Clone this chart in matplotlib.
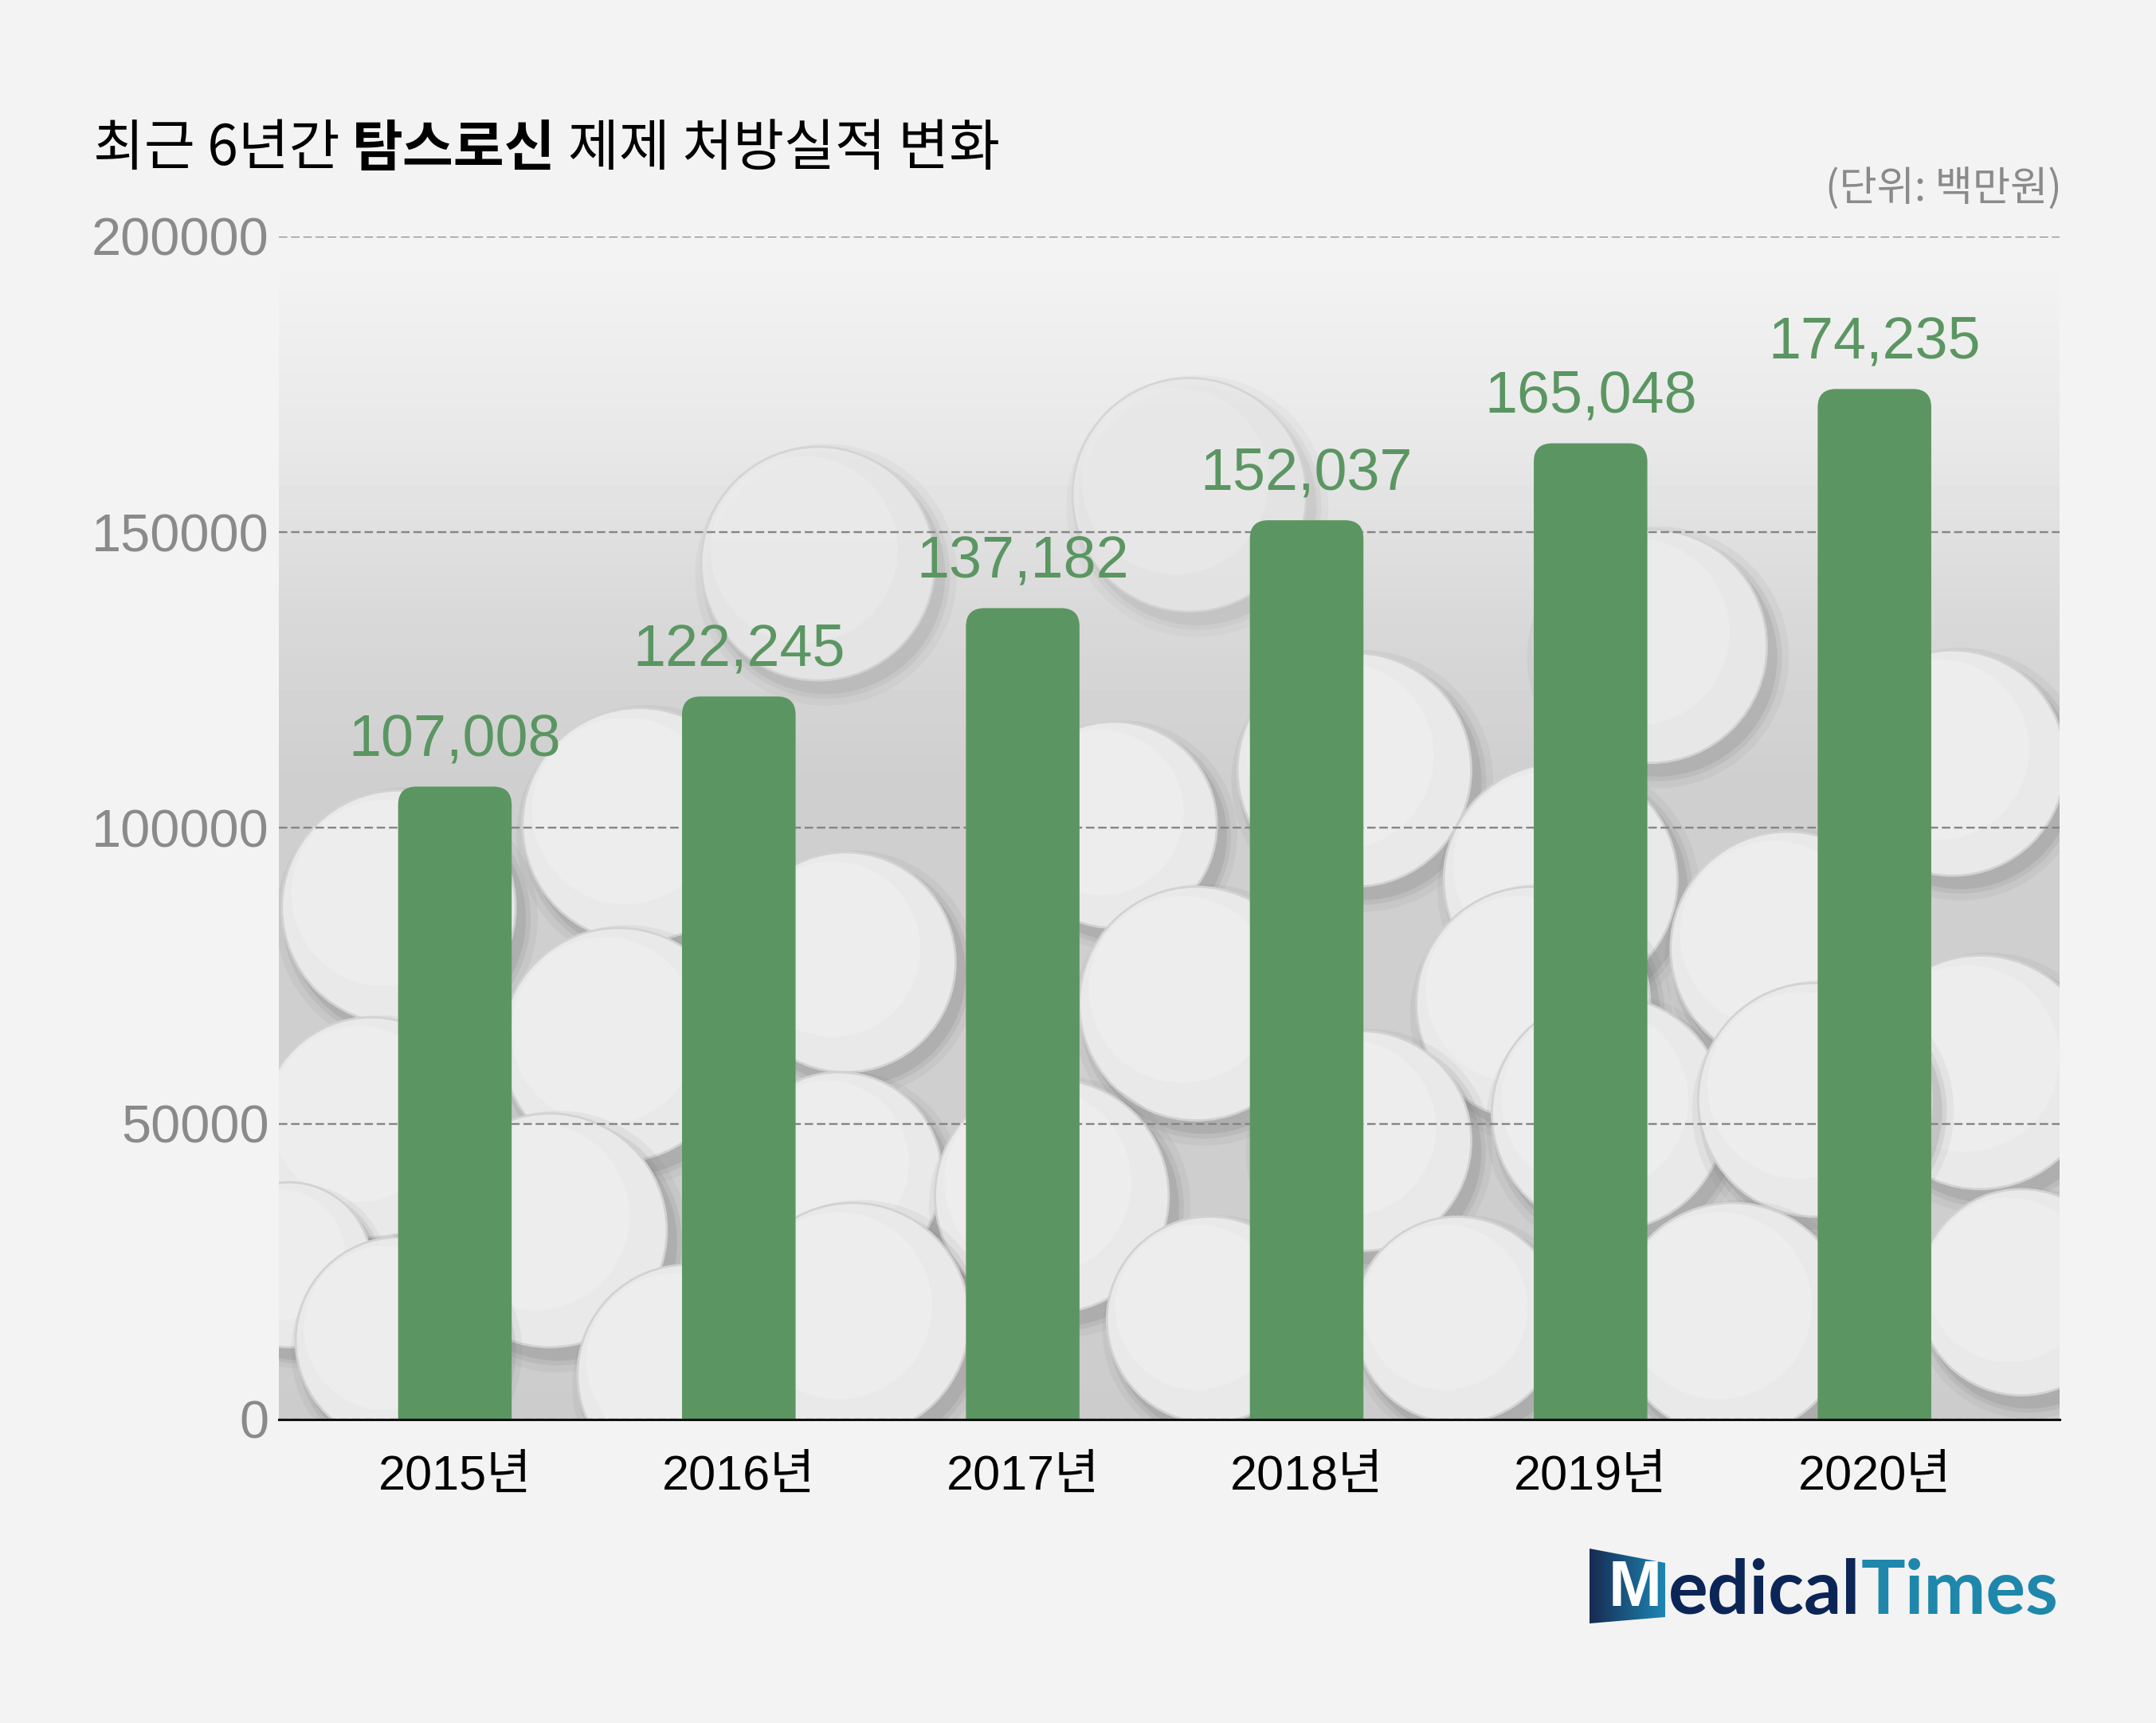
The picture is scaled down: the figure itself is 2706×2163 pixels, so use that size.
import numpy as np
import matplotlib.pyplot as plt
from matplotlib.patches import FancyBboxPatch, Polygon, Circle
from matplotlib.colors import LinearSegmentedColormap

# data
years = ['2015년', '2016년', '2017년', '2018년', '2019년', '2020년']
values = [107008, 122245, 137182, 152037, 165048, 174235]
yticks = [0, 50000, 100000, 150000, 200000]

title_a = '최근 6년간'
title_b = '탐스로신'
title_c = '제제 처방실적 변화'
unit_text = '(단위: 백만원)'

BG = '#f3f3f3'
GREEN = '#5b9662'
GRAY = '#8a8a8a'
KR = ['Noto Sans CJK KR', 'DejaVu Sans']
NUM = ['Liberation Sans', 'Noto Sans CJK KR', 'DejaVu Sans']

W, H = 2706, 2163
S = W / 1568.0
L, R, T, B = 350, 2585, 297, 1782
PHOTO_TOP = 336

fig = plt.figure(figsize=(W / 100, H / 100), dpi=100, facecolor=BG)
rect = [L / W, 1 - B / H, (R - L) / W, (B - T) / H]

# backdrop axes in pixel units: a grey photo of pills, only as decoration
pax = fig.add_axes(rect, facecolor='none', zorder=0)
pax.set_xlim(L, R)
pax.set_ylim(B, T)
pax.axis('off')
stops = [0, 0.3, 0.55, 0.7, 0.85, 1.0]
levels = [0.80, 0.81, 0.81, 0.85, 0.91, 0.95]
col = np.interp(np.linspace(0, 1, 400), stops, levels).reshape(-1, 1)
pax.imshow(col, cmap='gray', vmin=0, vmax=1, origin='lower', aspect='auto',
           extent=(L, R, B, PHOTO_TOP), zorder=0)
clip = plt.Rectangle((L, PHOTO_TOP), R - L, B - PHOTO_TOP, transform=pax.transData)

# pill centres / radii (display scale)
pills = [(595, 410, 85), (865, 360, 85), (1200, 470, 85), (1420, 555, 82),
         (985, 560, 85), (290, 660, 85), (465, 600, 85), (810, 600, 75),
         (615, 700, 80), (1135, 640, 85), (1300, 690, 85), (870, 730, 85),
         (1115, 730, 85), (1440, 780, 85), (270, 820, 80), (450, 760, 85),
         (610, 855, 75), (990, 830, 80), (1170, 810, 85), (1320, 800, 85),
         (400, 895, 85), (765, 870, 85), (210, 920, 60), (290, 975, 75),
         (500, 1000, 80), (620, 960, 85), (880, 960, 75), (1060, 960, 75),
         (1260, 960, 85), (1470, 940, 75)]
for cx, cy, r in pills:
    cx, cy, r = cx * S, cy * S, r * S
    fade = np.clip((cy - PHOTO_TOP) / 500.0, 0.3, 1.0)
    for k, a in [(1.12, 0.08), (1.06, 0.12), (1.02, 0.16)]:
        sh = Circle((cx + 10, cy + 14), r * k, fc='#6f6f6f', ec='none', alpha=a * fade, zorder=1)
        pax.add_patch(sh)
        sh.set_clip_path(clip)
    face = Circle((cx, cy), r, fc='#e9e9e9', ec='#d2d2d2', lw=2, alpha=0.6 + 0.4 * fade, zorder=1)
    pax.add_patch(face)
    face.set_clip_path(clip)
    hi = Circle((cx - r * 0.12, cy - r * 0.12), r * 0.8, fc='#f1f1f1', ec='none',
                alpha=0.5 * fade, zorder=1)
    pax.add_patch(hi)
    hi.set_clip_path(clip)

# main chart axes
ax = fig.add_axes(rect, zorder=1)
ax.set_facecolor('none')
x = np.arange(len(years))
ax.set_xlim(-0.62, len(years) - 1 + 0.652)
ax.set_ylim(0, 200000)

# bars with rounded tops
bars = ax.bar(x, values, width=0.4, color=GREEN, zorder=3)
p0 = ax.transData.transform((0, 0))
p1 = ax.transData.transform((1, 1))
rx = 23 / (p1[0] - p0[0])
ry = 23 / (p1[1] - p0[1])
for bar in bars:
    patch = FancyBboxPatch((bar.get_x(), -ry), bar.get_width(), bar.get_height() + ry,
                           boxstyle='round,pad=0,rounding_size=%f' % rx,
                           mutation_aspect=ry / rx, fc=GREEN, ec='none', zorder=3)
    ax.add_patch(patch)
    bar.set_visible(False)

for xi, v in zip(x, values):
    ax.annotate(f'{v:,}', (xi, v), xytext=(0, 28), textcoords='offset points',
                ha='center', va='baseline', fontsize=53, color=GREEN, family=NUM)

# axes styling
ax.set_yticks(yticks)
ax.set_yticklabels([str(t) for t in yticks], fontsize=48, color=GRAY, family=NUM)
ax.set_xticks(x)
ax.set_xticklabels(years, fontsize=44, color='black', family=NUM)
ax.tick_params(axis='y', length=0, pad=9)
ax.tick_params(axis='x', length=0, pad=32)
ax.yaxis.grid(True, linestyle=(0, (4.5, 2)), color='#858585', linewidth=1.7)
ax.set_axisbelow(True)
for s in ['top', 'right', 'left']:
    ax.spines[s].set_visible(False)
ax.spines['bottom'].set_linewidth(2.2)
ax.spines['bottom'].set_color('#111111')
ax.spines['bottom'].set_zorder(4)

# title, built from pieces so the drug name can be bold
t1 = fig.text(117 / W, 1 - 207 / H, title_a, fontsize=50, family=KR, va='baseline')
t2 = ax.annotate(title_b, xy=(1, 0), xycoords=t1, xytext=(11, 0), textcoords='offset points',
                 va='bottom', fontsize=50, family=KR, fontweight='bold', annotation_clip=False)
t3 = ax.annotate(title_c, xy=(1, 0), xycoords=t2, xytext=(11, 0), textcoords='offset points',
                 va='bottom', fontsize=50, family=KR, annotation_clip=False)

fig.text(2588 / W, 1 - 238 / H, unit_text, ha='right', va='center', fontsize=37,
         color=GRAY, family=KR)

# logo
def fpt(px, py):
    return (px / W, 1 - py / H)

lax = fig.add_axes([0, 0, 1, 1], facecolor='none', zorder=2)
lax.set_xlim(0, 1)
lax.set_ylim(0, 1)
lax.axis('off')
box = [fpt(1995, 1944), fpt(2090, 1962), fpt(2090, 2030), fpt(1995, 2038)]
poly = Polygon(box, closed=True, fc='none', ec='none')
lax.add_patch(poly)
grad = np.linspace(0, 1, 200).reshape(1, -1)
cm = LinearSegmentedColormap.from_list('logo', ['#172b52', '#1d86b3'])
im = lax.imshow(grad, cmap=cm, aspect='auto',
                extent=(1995 / W, 2090 / W, 1 - 2038 / H, 1 - 1944 / H))
im.set_clip_path(poly)
lax.text(2052 / W, 1 - 1995 / H, 'M', color='white', fontsize=58, fontweight='bold',
         family='Liberation Sans', ha='center', va='center')
tm = lax.text(2094 / W, 1 - 2026 / H, 'edical', color='#0c2557', fontsize=67,
              fontweight='bold', family='Lato', ha='left', va='baseline')
lax.annotate('Times', xy=(1, 0), xycoords=tm, va='bottom', color='#1e87ab', fontsize=67,
             fontweight='bold', family='Lato')

fig.savefig('out.png', dpi=100, facecolor=BG)
